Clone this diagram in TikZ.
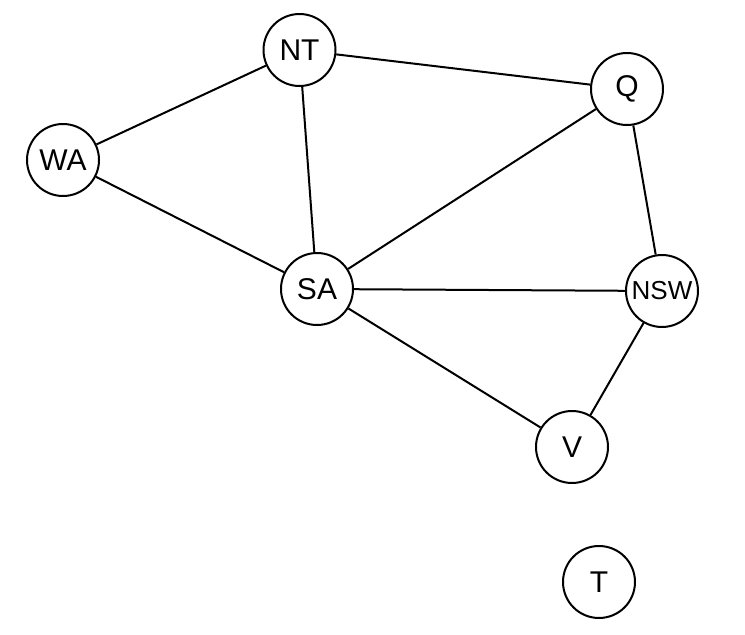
\documentclass[tikz,border=0pt]{standalone}
\usepackage{fontspec}
\setmainfont{Liberation Sans}
\begin{document}
\begin{tikzpicture}[x=1pt,y=-1pt,
  st/.style={circle,draw=black,line width=2pt,minimum size=72pt,inner sep=0pt,font=\fontsize{30}{30}\selectfont},
  small/.style={font=\fontsize{26}{26}\selectfont},
  edge/.style={draw=black,line width=2pt}]
\useasboundingbox (0,0) rectangle (745,635);
\node[st] (NT) at (299.5,50) {NT};
\node[st] (Q) at (627,89) {Q};
\node[st] (WA) at (63,160) {WA};
\node[st] (SA) at (317,289) {SA};
\node[st,small] (NSW) at (662,291) {NSW};
\node[st] (V) at (572,447) {V};
\node[st] (T) at (599,582) {T};
\draw[edge] (WA) -- (NT);
\draw[edge] (NT) -- (Q);
\draw[edge] (NT) -- (SA);
\draw[edge] (WA) -- (SA);
\draw[edge] (SA) -- (Q);
\draw[edge] (SA) -- (NSW);
\draw[edge] (Q) -- (NSW);
\draw[edge] (SA) -- (V);
\draw[edge] (NSW) -- (V);
\end{tikzpicture}
\end{document}
